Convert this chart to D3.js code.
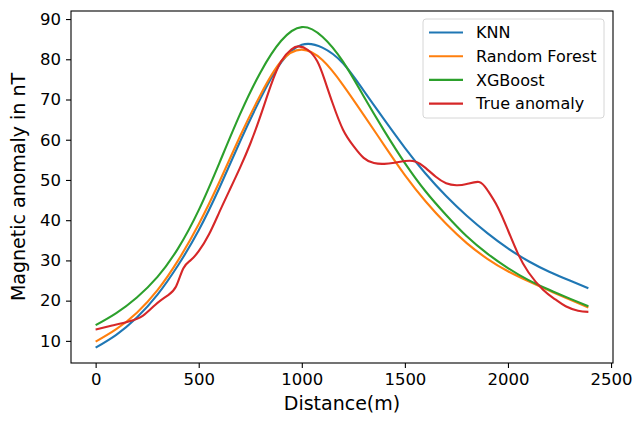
<!DOCTYPE html>
<html lang="en">
<head>
    <meta charset="UTF-8">
    <title>Magnetic anomaly</title>
    <script src="https://cdn.jsdelivr.net/npm/d3@7"></script>
    <style>
        body { margin: 0; background: #fff; }
        text { font-family: "DejaVu Sans", sans-serif; }
    </style>
</head>
<body>
    <svg width="633" height="421"></svg>
    <script>
        // data
        const distModel = [0, 100, 200, 300, 400, 500, 600, 700, 800, 900, 1000, 1100, 1200,
            1300, 1400, 1500, 1600, 1700, 1800, 1900, 2000, 2100, 2200, 2300, 2390];
        const knn = [8.3, 11.5, 15.8, 21.5, 28.8, 37.5, 48, 59.5, 70.3, 79.2, 83.6, 82.9, 79,
            72.2, 65, 58, 51.6, 46, 41.1, 36.8, 33, 29.8, 27.2, 25, 23.1];
        const randomForest = [9.8, 12.9, 17, 22.6, 30, 39, 49.5, 60.8, 71.2, 79.5, 82.4, 79.8, 73.6,
            66.2, 58.6, 51.2, 44.7, 39.1, 34.3, 30.4, 27.3, 24.8, 22.5, 20.3, 18.3];
        const xgboost = [13.9, 16.9, 20.8, 25.9, 33, 42.5, 54.2, 66.3, 76.8, 84.6, 88, 85.6, 79.4,
            70.8, 62.2, 54.2, 47.2, 41.3, 36, 31.7, 28.1, 25.1, 22.7, 20.5, 18.6];
        const distTrue = [0, 80, 160, 230, 290, 350, 390, 425, 460, 500, 550, 600, 650, 700, 750,
            800, 850, 900, 950, 985, 1030, 1075, 1110, 1150, 1200, 1250, 1300, 1350, 1400, 1450,
            1500, 1550, 1600, 1650, 1700, 1750, 1800, 1860, 1900, 1950, 2000, 2050, 2100, 2170,
            2230, 2280, 2340, 2390];
        const trueAnomaly = [12.8, 13.8, 14.8, 16.3, 19, 21.3, 23.5, 28, 30, 32.3, 36.5, 42, 47.5,
            53, 59, 66, 73.5, 79.5, 82.5, 83.2, 82.3, 79.5, 75, 69, 62.5, 58.5, 55.5, 54.2, 54,
            54.3, 54.7, 54.6, 53, 50.8, 49.2, 48.7, 49, 49.5, 47.5, 43.3, 37.5, 31.5, 27, 22.7,
            20.3, 18.6, 17.5, 17.2];
        const xTicks = [0, 500, 1000, 1500, 2000, 2500];
        const yTicks = [10, 20, 30, 40, 50, 60, 70, 80, 90];

        const series = [
            { name: "KNN", x: distModel, y: knn, color: "#1f77b4" },
            { name: "Random Forest", x: distModel, y: randomForest, color: "#ff7f0e" },
            { name: "XGBoost", x: distModel, y: xgboost, color: "#2ca02c" },
            { name: "True anomaly", x: distTrue, y: trueAnomaly, color: "#d62728" }
        ];

        // layout
        const margin = { left: 71, right: 20, top: 11, bottom: 58 };
        const svg = d3.select("svg");
        const width = +svg.attr("width");
        const height = +svg.attr("height");
        const innerWidth = width - margin.left - margin.right;
        const innerHeight = height - margin.top - margin.bottom;

        // scales (matplotlib style 5% padding)
        const x = d3.scaleLinear().domain([-119.5, 2509.5]).range([0, innerWidth]);
        const y = d3.scaleLinear().domain([4.5, 92]).range([innerHeight, 0]);

        const g = svg.append("g")
            .attr("transform", "translate(" + margin.left + "," + margin.top + ")");

        // lines
        const line = d3.line()
            .x(d => x(d[0]))
            .y(d => y(d[1]))
            .curve(d3.curveNatural);

        series.forEach(s => {
            g.append("path")
                .datum(s.x.map((d, i) => [d, s.y[i]]))
                .attr("fill", "none")
                .attr("stroke", s.color)
                .attr("stroke-width", 2.1)
                .attr("d", line);
        });

        // axes
        const xAxis = g.append("g")
            .attr("transform", "translate(0," + innerHeight + ")")
            .call(d3.axisBottom(x).tickValues(xTicks).tickFormat(d3.format("d"))
                .tickSizeInner(5).tickSizeOuter(0).tickPadding(5));
        const yAxis = g.append("g")
            .call(d3.axisLeft(y).tickValues(yTicks).tickSizeInner(5).tickSizeOuter(0).tickPadding(5));
        [xAxis, yAxis].forEach(a => {
            a.select(".domain").remove();
            a.selectAll("line").attr("stroke", "#000").attr("stroke-width", 1.1);
            a.selectAll("text").attr("font-size", "16.5px").attr("fill", "#000")
                .attr("font-family", "DejaVu Sans");
        });

        // frame
        g.append("rect")
            .attr("width", innerWidth)
            .attr("height", innerHeight)
            .attr("fill", "none")
            .attr("stroke", "#000")
            .attr("stroke-width", 1.1);

        // axis labels
        svg.append("text")
            .attr("x", margin.left + innerWidth / 2)
            .attr("y", 410)
            .attr("text-anchor", "middle")
            .attr("font-size", "19px")
            .text("Distance(m)");
        svg.append("text")
            .attr("transform", "translate(25," + (margin.top + innerHeight / 2) + ") rotate(-90)")
            .attr("text-anchor", "middle")
            .attr("font-size", "19px")
            .text("Magnetic anomaly in nT");

        // legend
        const legend = svg.append("g").attr("transform", "translate(423,19)");
        legend.append("rect")
            .attr("width", 181)
            .attr("height", 99)
            .attr("rx", 3)
            .attr("fill", "#fff")
            .attr("fill-opacity", 0.8)
            .attr("stroke", "#d6d6d6");
        series.forEach((s, i) => {
            const ly = 13.5 + i * 23.7;
            legend.append("line")
                .attr("x1", 6).attr("x2", 40)
                .attr("y1", ly).attr("y2", ly)
                .attr("stroke", s.color)
                .attr("stroke-width", 2.1);
            legend.append("text")
                .attr("x", 53)
                .attr("y", ly)
                .attr("dy", "0.35em")
                .attr("font-size", "16px")
                .text(s.name);
        });
    </script>
</body>
</html>
